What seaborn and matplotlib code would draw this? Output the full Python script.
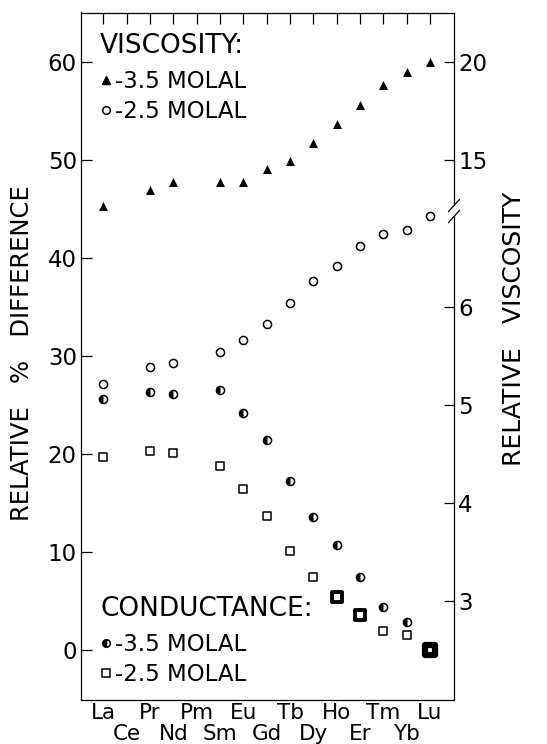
import numpy as np
import pandas as pd
import matplotlib
matplotlib.use("Agg")
import matplotlib.pyplot as plt
from matplotlib.lines import Line2D
from matplotlib.markers import MarkerStyle
import seaborn as sns

nan = np.nan

elements = ['La', 'Ce', 'Pr', 'Nd', 'Pm', 'Sm', 'Eu', 'Gd', 'Tb', 'Dy', 'Ho', 'Er', 'Tm', 'Yb', 'Lu']

# values on the left axis (relative % difference)
visc_35 = [45.3, nan, 46.9, 47.8, nan, 47.8, 47.8, 49.1, 49.9, 51.7, 53.7, 55.6, 57.7, 59.0, 60.0]
visc_25 = [27.1, nan, 28.9, 29.3, nan, 30.4, 31.6, 33.3, 35.4, 37.7, 39.2, 41.2, 42.4, 42.9, 44.3]
cond_35 = [25.6, nan, 26.3, 26.1, nan, 26.5, 24.2, 21.4, 17.2, 13.6, 10.7, 7.5, 4.4, 2.9, nan]
cond_25 = [19.7, nan, 20.3, 20.1, nan, 18.8, 16.4, 13.7, 10.1, 7.4, 5.4, 3.6, 1.9, 1.5, 0.0]
cond_25_bold = ['Ho', 'Er', 'Lu']

left_ticks = [0, 10, 20, 30, 40, 50, 60]
# right axis: relative viscosity labels and where they sit on the left scale
right_labels = ['3', '4', '5', '6', '15', '20']
right_at = [5, 15, 25, 35, 50, 60]

df = pd.DataFrame({'element': elements, 'visc_35': visc_35, 'visc_25': visc_25,
                   'cond_35': cond_35, 'cond_25': cond_25})
df['pos'] = range(len(df))

sns.set_theme(style='white')
plt.rcParams['font.family'] = ['DejaVu Sans']
plt.rcParams['axes.linewidth'] = 0.9
plt.rcParams['axes.edgecolor'] = 'black'
plt.rcParams['text.color'] = 'black'
plt.rcParams['axes.labelcolor'] = 'black'

fig = plt.figure(figsize=(5.47, 7.44), dpi=100)
ax = fig.add_axes([81/547, 1-700/744, (454-81)/547, (700-12.5)/744])

k = dict(color='black', linewidth=0, legend=False, ax=ax, zorder=3)
sns.scatterplot(data=df, x='pos', y='visc_35', marker='^', s=42, **k)
sns.scatterplot(data=df, x='pos', y='visc_25', marker='o', s=34, facecolor='white',
                edgecolor='black', linewidth=1.1, legend=False, ax=ax, zorder=3)
sns.scatterplot(data=df, x='pos', y='cond_35', marker='o', s=34, facecolor='white',
                edgecolor='black', linewidth=1.1, legend=False, ax=ax, zorder=3)
sns.scatterplot(data=df, x='pos', y='cond_35', marker=MarkerStyle('o', fillstyle='left'),
                s=34, **k)
thin = df[~df['element'].isin(cond_25_bold)]
bold = df[df['element'].isin(cond_25_bold[:2])]
solid = df[df['element'] == cond_25_bold[2]]
sns.scatterplot(data=thin, x='pos', y='cond_25', marker='s', s=30, facecolor='white',
                edgecolor='black', linewidth=1.1, legend=False, ax=ax, zorder=3)
sns.scatterplot(data=bold, x='pos', y='cond_25', marker='s', s=62, facecolor='white',
                edgecolor='black', linewidth=2.8, legend=False, ax=ax, zorder=3)
sns.scatterplot(data=solid, x='pos', y='cond_25', marker='s', s=62, facecolor='white',
                edgecolor='black', linewidth=4.5, legend=False, ax=ax, zorder=3)

ax.set_xlim(-0.96, 15.03)
ax.set_ylim(-5.1, 65.05)

pos = np.arange(len(elements))
ax.set_xticks(pos[::2], elements[::2])
ax.set_xticks(pos[1::2], elements[1::2], minor=True)
ax.tick_params(axis='x', which='both', direction='in', length=8, width=0.9,
               top=True, labelsize=15.5, colors='black')
ax.tick_params(axis='x', which='major', pad=2)
ax.tick_params(axis='x', which='minor', pad=17.5)
ax.set_yticks(left_ticks)
ax.tick_params(axis='y', direction='in', length=8, width=0.9, labelsize=16.5, pad=3,
               colors='black')
ax.set_xlabel('')
ax.set_ylabel('RELATIVE   %   DIFFERENCE', fontsize=17.5, color='black')
ax.yaxis.set_label_coords(-0.125, 0.505)

ax2 = ax.twinx()
ax2.set_ylim(ax.get_ylim())
ax2.set_yticks(right_at, right_labels)
ax2.tick_params(axis='y', direction='in', length=7, width=0.9, labelsize=16.5, pad=3,
                colors='black')
ax2.set_ylabel('RELATIVE   VISCOSITY', fontsize=18, color='black')
ax2.yaxis.set_label_coords(1.128, 0.54)
ax2.grid(False)
ax.grid(False)

# break on right axis
for s in ax2.spines.values():
    s.set_visible(False)
ax.spines['right'].set_visible(False)
yb = (44.8 + 5.1) / 70.15
gap = 0.008
ax.plot([1, 1], [0, yb - gap], transform=ax.transAxes, color='black', lw=0.9, clip_on=False)
ax.plot([1, 1], [yb + gap, 1], transform=ax.transAxes, color='black', lw=0.9, clip_on=False)
for d in (-gap, gap):
    ax.plot([0.985, 1.015], [yb + d - 0.009, yb + d + 0.009], transform=ax.transAxes,
            color='black', lw=0.9, clip_on=False)

h_tri = Line2D([], [], marker='^', color='black', ls='', ms=6)
h_circ = Line2D([], [], marker='o', mfc='white', mec='black', ls='', ms=5.5, mew=1.1)
h_half = Line2D([], [], marker='o', fillstyle='left', color='black', mfc='black',
                markerfacecoloralt='white', ls='', ms=5.5, mew=1.1)
h_sq = Line2D([], [], marker='s', mfc='white', mec='black', ls='', ms=5.5, mew=1.1)

leg_kw = dict(loc='upper left', frameon=False, fontsize=16.5, title_fontsize=19,
              alignment='left', handlelength=0.5, handletextpad=0.15, borderpad=0,
              borderaxespad=0, labelspacing=0.3, labelcolor='black')
leg1 = ax.legend([h_tri, h_circ], ['-3.5 MOLAL', '-2.5 MOLAL'], title='VISCOSITY:',
                 bbox_to_anchor=((100-81)/373, (700-33)/687.5), **leg_kw)
leg1._legend_box.sep = 8
ax.add_artist(leg1)
leg2 = ax.legend([h_half, h_sq], ['-3.5 MOLAL', '-2.5 MOLAL'], title='CONDUCTANCE:',
                 bbox_to_anchor=((100-81)/373, (700-596)/687.5), **leg_kw)
leg2._legend_box.sep = 8

fig.savefig('out.png', dpi=100)
